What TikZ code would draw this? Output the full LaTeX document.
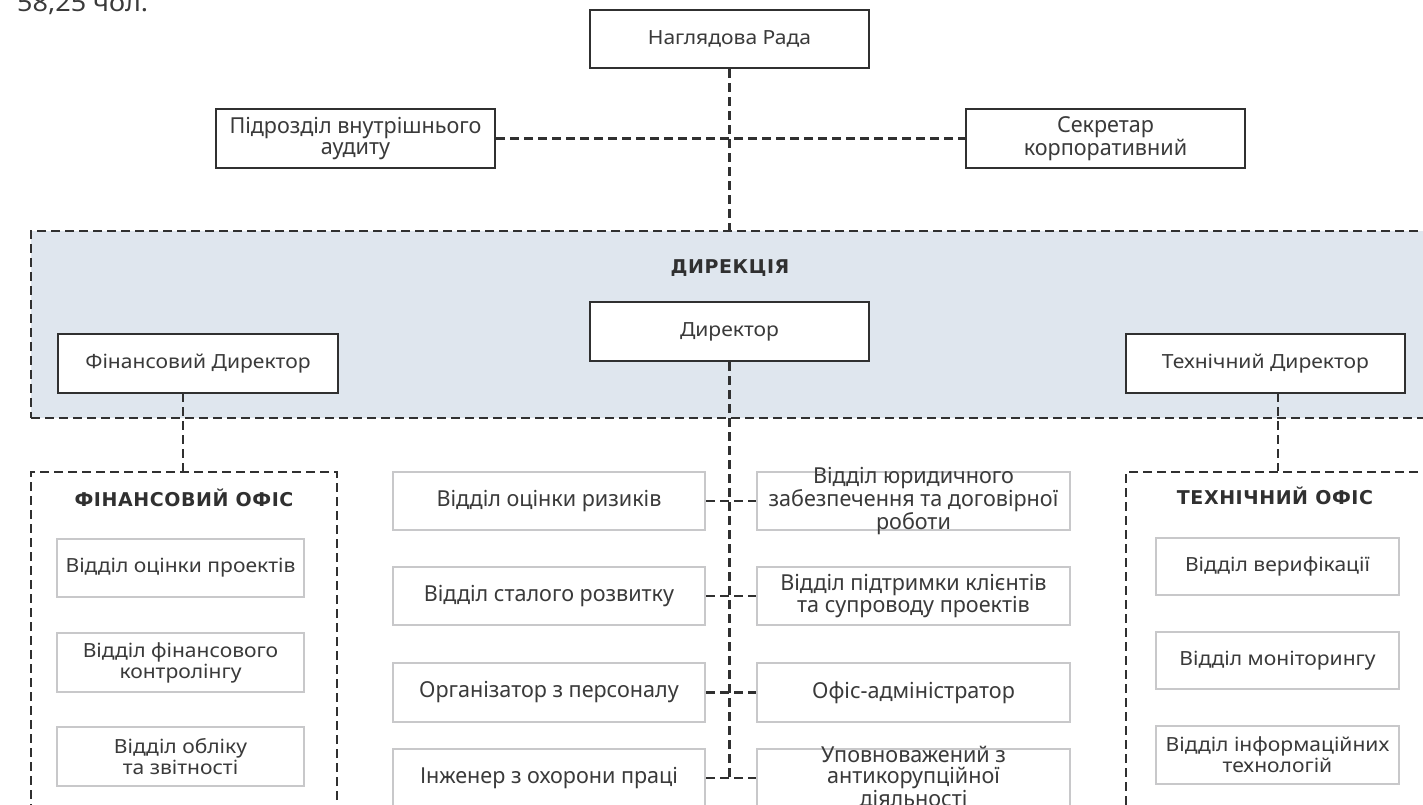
\documentclass[tikz,border=0pt]{standalone}
\usepackage{fontspec}
\setmainfont{Noto Sans}[FakeStretch=1.08]
\newfontfamily\condfont{Noto Sans}[FakeStretch=0.98]
\newfontfamily\titlefont{DejaVu Sans}[LetterSpace=3]
\definecolor{ink}{HTML}{303030}
\definecolor{txt}{HTML}{3A3A3A}
\definecolor{lightb}{HTML}{C8C8CA}
\definecolor{dirfill}{HTML}{DFE6EE}
\newcommand{\fmain}{\fontsize{19.5}{21}\selectfont}
\newcommand{\fcond}{\condfont\fontsize{22}{21}\selectfont}
\newcommand{\ftitle}{\titlefont\bfseries\fontsize{19}{21}\selectfont}
% box drawn from its corners; its text set as a separate node on its centre
\newcommand{\mkbox}[8]{\node[#2, minimum width={(#5)-(#3)}, minimum height={(#6)-(#4)}] (#1) at ({((#3)+(#5))/2},{((#4)+(#6))/2}) {};
  \node[#7] (#1t) at (#1.center) {#8};}
\begin{document}
\begin{tikzpicture}[x=1pt,y=-1pt,
  dashln/.style={draw=ink, line width=2.2pt, dash pattern=on 9pt off 5pt},
  mainbox/.style={draw=ink, line width=2.4pt, fill=white, inner sep=0pt},
  subbox/.style={draw=lightb, line width=2.2pt, fill=white, inner sep=0pt},
  mtext/.style={inner sep=0pt, align=center, font=\fmain, text=txt},
  ctext/.style={inner sep=0pt, align=center, font=\fcond, text=txt},
  area/.style={dashln, inner sep=0pt},
  title/.style={font=\ftitle, text=ink, inner sep=0pt}
]
\useasboundingbox (0,0) rectangle (1423,804);
\clip (0,0) rectangle (1423,804);

\node[anchor=base west, font=\fontsize{25}{28}\selectfont, text=txt, inner sep=0pt] (hdr) at (17,11) {58,25 чол.};

% areas
\node[area, fill=dirfill, minimum width=1419, minimum height=187] (direkcia) at (740.5,324.5) {};
\node[area, minimum width=306, minimum height=428] (finoff) at (184,686) {};
\node[area, minimum width=324, minimum height=428] (techoff) at (1288,686) {};

\node[title] (tdir) at (730,268) {ДИРЕКЦІЯ};
\node[title] (tfin) at (184,498) {ФІНАНСОВИЙ ОФІС};
\node[title] (ttech) at (1275,496) {ТЕХНІЧНИЙ ОФІС};

% top boxes
\mkbox{nr}{mainbox}{590}{10}{869}{68}{mtext}{Наглядова Рада}
\mkbox{pidr}{mainbox}{216}{109}{495}{168}{ctext}{Підрозділ внутрішнього\\аудиту}
\mkbox{sekr}{mainbox}{966}{109}{1245}{168}{ctext}{Секретар\\корпоративний}
\mkbox{dir}{mainbox}{590}{302}{869}{361}{mtext}{Директор}
\mkbox{findir}{mainbox}{58}{334}{338}{393}{mtext}{Фінансовий Директор}
\mkbox{techdir}{mainbox}{1126}{334}{1405}{393}{mtext}{Технічний Директор}

% finance office
\mkbox{f1}{subbox}{57}{539}{304}{597}{mtext}{Відділ оцінки проектів}
\mkbox{f2}{subbox}{57}{633}{304}{692}{mtext}{Відділ фінансового\\контролінгу}
\mkbox{f3}{subbox}{57}{727}{304}{786}{mtext}{Відділ обліку\\та звітності}

% technical office
\mkbox{t1}{subbox}{1156}{538}{1399}{595}{mtext}{Відділ верифікації}
\mkbox{t2}{subbox}{1156}{632}{1399}{689}{mtext}{Відділ моніторингу}
\mkbox{t3}{subbox}{1156}{726}{1399}{784}{mtext}{Відділ інформаційних\\технологій}

% central column
\mkbox{l1}{subbox}{393}{472}{705}{530}{ctext}{Відділ оцінки ризиків}
\mkbox{r1}{subbox}{757}{472}{1070}{530}{ctext}{Відділ юридичного\\забезпечення та договірної\\роботи}
\mkbox{l2}{subbox}{393}{567}{705}{625}{ctext}{Відділ сталого розвитку}
\mkbox{r2}{subbox}{757}{567}{1070}{625}{ctext}{Відділ підтримки клієнтів\\та супроводу проектів}
\mkbox{l3}{subbox}{393}{663}{705}{722}{ctext}{Організатор з персоналу}
\mkbox{r3}{subbox}{757}{663}{1070}{722}{ctext}{Офіс-адміністратор}
\mkbox{l4}{subbox}{393}{749}{705}{807}{ctext}{Інженер з охорони праці}
\mkbox{r4}{subbox}{757}{749}{1070}{807}{ctext}{Уповноважений з\\антикорупційної\\діяльності}

% connectors
\coordinate (fj) at (183,393);
\coordinate (tj) at (1278,393);
\draw[dashln] (nr.south) -- (nr.south |- direkcia.north);
\draw[dashln] (pidr.east) -- (sekr.west);
\coordinate (cend) at (dir.south |- l4.east);
\draw[dashln] (dir.south) -- (cend);
\draw[dashln] (fj) -- (fj |- finoff.north);
\draw[dashln] (tj) -- (tj |- techoff.north);
\draw[dashln] (l1.east) -- (r1.west);
\draw[dashln] (l2.east) -- (r2.west);
\draw[dashln] (l3.east) -- (r3.west);
\draw[dashln] (l4.east) -- (r4.west);
\end{tikzpicture}
\end{document}
